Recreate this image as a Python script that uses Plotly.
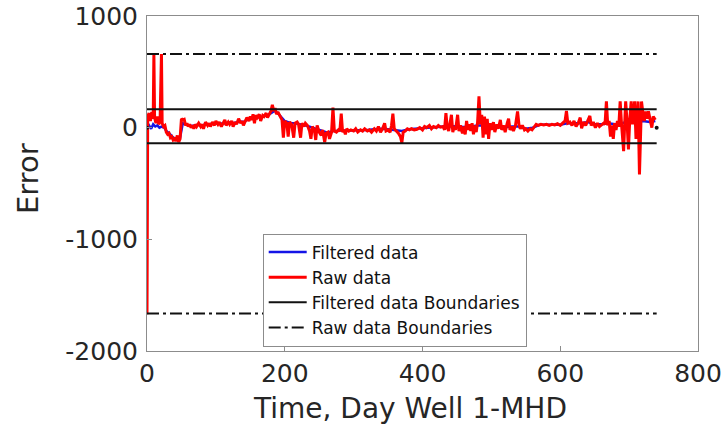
import plotly.graph_objects as go

# ---- data ----
raw_days = [0,1,3,5,7,9,10,11,13,15,17,19,21,22,24,26,28,30,32,34,36,38,40,42,44,46,48,50,52,54,56,58,60,62,64,66,68,70,72,75,78,80,82,85,88,90,92,95,98,100,103,105,108,110,113,115,118,120,123,125,128,130,133,136,138,140,143,145,148,150,152,154,156,158,160,163,165,168,170,173,175,178,180,182,184,186,188,190,193,196,198,200,203,205,207,210,213,215,218,220,223,225,228,230,233,236,238,240,243,245,247,250,253,255,258,260,263,265,268,270,272,275,278,280,282,284,286,288,290,293,296,300,303,306,310,313,316,320,323,326,330,333,336,339,342,345,347,350,353,355,357,359,362,365,368,370,372,375,378,381,384,388,392,396,400,403,406,410,413,416,420,423,426,430,432,434,436,438,440,442,444,446,448,451,453,455,458,460,462,464,466,468,470,472,474,476,478,480,482,484,486,488,490,492,494,496,498,500,503,505,508,510,513,515,518,520,523,525,527,530,532,535,538,540,542,545,548,550,553,556,559,562,565,568,572,576,580,584,588,592,596,600,604,607,609,611,614,617,620,623,626,629,631,634,637,640,643,645,648,651,654,657,660,663,665,667,669,671,673,675,677,679,681,683,685,687,689,691,692,694,695,697,699,701,703,705,708,710,712,713,715,717,718,720,722,724,726,728,730,733,735,738]
raw_vals = [-1670,100,130,60,140,80,660,90,40,100,30,60,660,40,10,20,-40,-60,-50,-90,-80,-110,-100,-120,-70,-130,-100,80,70,75,20,40,10,30,0,20,-10,30,10,40,10,30,-10,50,20,40,10,50,20,60,30,50,10,40,70,20,50,30,60,10,50,30,80,40,60,20,70,90,60,100,70,120,40,110,90,120,60,110,100,130,90,120,150,205,150,175,120,140,110,70,-90,60,40,-80,50,30,-90,40,50,30,-90,40,10,40,20,-30,-100,10,-20,-110,20,-40,-70,-20,-130,-50,-40,-100,-40,180,-30,-40,-20,-30,125,-40,-20,-60,-10,-30,-20,-30,-10,-40,-20,-30,-10,-30,-20,-40,-10,-30,10,-40,-10,40,-30,-20,-40,20,125,-10,-30,-50,-80,-135,-40,-30,-10,-20,-10,-20,-15,0,-20,10,0,20,-10,10,0,20,5,10,-20,130,0,-30,40,115,-40,10,-20,115,-30,20,-50,10,-60,60,-20,30,-30,40,-60,20,-40,50,280,30,115,-90,100,-60,80,-100,40,-20,50,-40,30,-10,70,-20,20,-40,40,80,-20,10,-30,20,146,30,-10,20,-20,-10,-30,-10,-20,10,30,20,30,25,30,20,30,25,35,20,40,60,150,40,50,20,60,10,40,90,-5,50,20,70,105,20,50,0,40,10,30,40,30,235,20,60,-80,20,-100,40,-20,60,10,235,30,-150,-210,100,235,50,-195,80,235,30,235,-100,200,235,-420,100,235,130,60,146,80,146,90,0,100,70]

filt_days = [0,3,6,9,12,15,18,21,25,28,32,36,40,44,48,52,56,60,65,70,75,80,85,90,95,100,105,110,115,120,125,130,135,140,145,150,155,160,165,170,175,180,185,190,195,200,205,210,215,220,225,230,235,240,245,250,255,260,265,270,275,280,290,300,310,320,330,340,350,360,370,380,390,400,410,420,430,440,450,460,470,480,490,500,510,520,530,540,550,560,570,580,590,600,610,620,630,640,650,660,670,680,690,700,710,720,730,738]
filt_vals = [0,20,-10,30,10,20,0,10,0,-30,-50,-80,-100,-100,-90,40,30,20,15,20,25,20,30,30,35,40,40,35,40,45,40,50,55,50,70,80,80,95,90,105,110,130,150,130,90,60,50,40,40,35,30,20,10,0,-10,-20,-30,-40,-40,-30,-30,-25,-25,-25,-20,-20,-15,-10,-15,-20,-30,-15,-10,-5,5,10,10,15,10,5,10,20,20,10,10,5,10,10,-10,0,25,25,25,25,40,40,40,50,30,30,40,30,40,60,50,60,50,60]

bound_days = [0, 740]
filt_bounds = [165, -140]
raw_bounds = [660, -1665]

x_ticks = [0, 200, 400, 600, 800]
x_labels = ["0", "200", "400", "600", "800"]
y_ticks = [-2000, -1000, 0, 1000]
y_labels = ["-2000", "-1000", "0", "1000"]

x_title = "Time, Day Well 1-MHD"
y_title = "Error"

FONT = "DejaVu Sans, Liberation Sans, Arial, sans-serif"
TXT = "#262626"


def two_lines(xs, levels):
    bx, by = [], []
    for lv in levels:
        bx += [xs[0], xs[1], None]
        by += [lv, lv, None]
    return bx, by


fig = go.Figure()
fig.add_trace(go.Scatter(x=filt_days, y=filt_vals, mode="lines", name="Filtered data",
                         line=dict(color="#1414e6", width=2.5)))
fig.add_trace(go.Scatter(x=raw_days, y=raw_vals, mode="lines", name="Raw data",
                         line=dict(color="#ff0000", width=3)))
fbx, fby = two_lines(bound_days, filt_bounds)
fig.add_trace(go.Scatter(x=fbx, y=fby, mode="lines", name="Filtered data Boundaries",
                         line=dict(color="#111111", width=2)))
rbx, rby = two_lines(bound_days, raw_bounds)
fig.add_trace(go.Scatter(x=rbx, y=rby, mode="lines", name="Raw data Boundaries",
                         line=dict(color="#111111", width=2, dash="12px,4px,3px,4px")))
fig.add_trace(go.Scatter(x=bound_days, y=[0, 0], mode="markers", showlegend=False,
                         marker=dict(color="#111111", size=4)))

axis_common = dict(showline=True, linecolor="#8c8c8c", linewidth=1, mirror=True,
                   ticks="inside", ticklen=5, tickcolor="#8c8c8c", showgrid=False,
                   zeroline=False, automargin=False,
                   tickfont=dict(size=25, color=TXT, family=FONT))

fig.update_layout(
    width=727, height=427,
    margin=dict(l=147, r=29, t=16, b=76),
    paper_bgcolor="white", plot_bgcolor="white",
    font=dict(family=FONT, color=TXT),
    xaxis=dict(range=[0, 800], tickvals=x_ticks, ticktext=x_labels,
               ticklabelstandoff=0, **axis_common),
    yaxis=dict(range=[-2000, 1000], tickvals=y_ticks, ticktext=y_labels,
               ticklabelstandoff=3, **axis_common),
    legend=dict(x=0.21, y=0.182, xanchor="left", yanchor="middle",
                bgcolor="white", bordercolor="#8c8c8c", borderwidth=1,
                font=dict(size=17, color="#111111", family=FONT), tracegroupgap=0,
                itemwidth=38),
    showlegend=True,
    annotations=[
        dict(text=x_title, xref="paper", yref="paper", x=0.477, y=-0.172,
             xanchor="center", yanchor="middle", showarrow=False,
             font=dict(size=28, color=TXT, family=FONT)),
        dict(text=y_title, xref="paper", yref="paper", x=-0.216, y=0.516,
             xanchor="center", yanchor="middle", showarrow=False, textangle=-90,
             font=dict(size=29, color=TXT, family=FONT)),
    ],
)

fig.write_html("out.html")
